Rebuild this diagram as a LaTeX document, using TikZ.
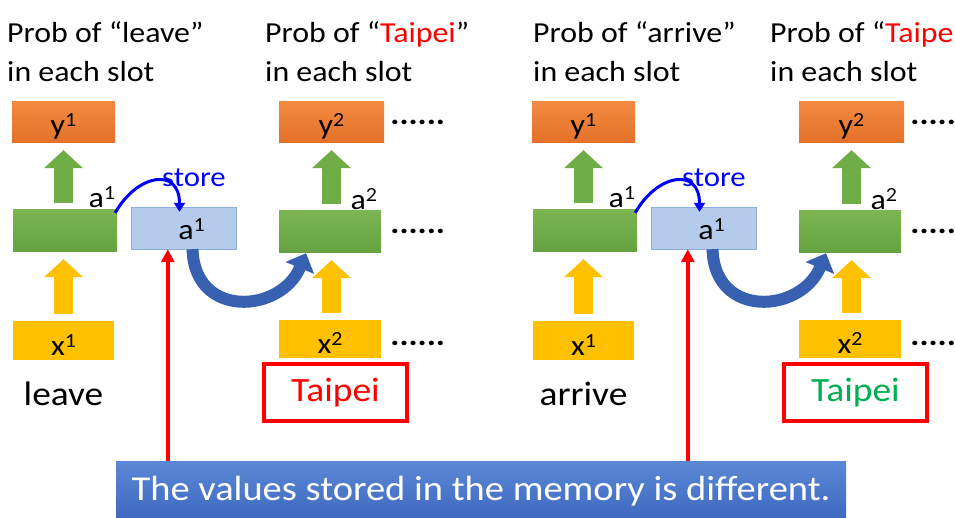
\documentclass[tikz,border=0pt]{standalone}
\usepackage{fontspec}
\setmainfont{Carlito}[FakeStretch=1.1]
\usetikzlibrary{positioning,arrows.meta,calc}

\definecolor{ppOrangeT}{RGB}{242,138,64}
\definecolor{ppOrangeB}{RGB}{228,112,40}
\definecolor{ppGreenT}{RGB}{122,181,82}
\definecolor{ppGreenB}{RGB}{102,162,64}
\definecolor{ppGreen}{RGB}{112,173,71}
\definecolor{ppYellow}{RGB}{255,192,0}
\definecolor{memFill}{RGB}{180,203,236}
\definecolor{memLine}{RGB}{141,174,221}
\definecolor{swoosh}{RGB}{55,97,176}
\definecolor{bannerT}{RGB}{92,136,214}
\definecolor{bannerB}{RGB}{60,103,190}
\definecolor{tGreen}{RGB}{0,176,80}
\newcommand{\fsz}[1]{\fontsize{#1}{#1}\selectfont}
\newcommand{\sps}[1]{\raisebox{8pt}{\fsz{20}#1}}

\begin{document}
\begin{tikzpicture}[
  x=1pt, y=-1pt,
  box/.style={inner sep=0pt, minimum width=103pt, minimum height=41pt, font=\fsz{29},
              text height=25pt, text depth=0pt},
  ybox/.style={box, top color=ppOrangeT, bottom color=ppOrangeB},
  gbox/.style={box, top color=ppGreenT, bottom color=ppGreenB},
  xbox/.style={box, fill=ppYellow, minimum height=39pt, text height=29pt},
  membox/.style={box, fill=memFill, draw=memLine, minimum width=105pt, minimum height=42pt,
                 text height=24pt},
  lab/.style={inner sep=0pt, font=\fsz{29}},
  title/.style={inner sep=0pt, align=left, font=\fontsize{29}{39}\selectfont},
  word/.style={inner sep=0pt, font=\fsz{34}},
  tpbox/.style={draw=red, line width=4pt, minimum width=143pt, minimum height=57pt,
                inner sep=0pt, font=\fsz{34}},
  dots/.style={inner sep=0pt, font=\fsz{31}\bfseries},
  blk/.style={line width=19pt, draw=#1, -{Triangle[length=18pt, width=38pt]},
              shorten <=7pt, shorten >=7pt},
  storearr/.style={blue, line width=3pt, -{Triangle[length=9pt, width=11pt]}},
  swooparr/.style={swoosh, line width=12pt, -{Triangle[length=16pt, width=30pt]}},
  redarr/.style={red, line width=4pt, -{Triangle[length=13pt, width=13pt]}}
]
\useasboundingbox (0,0) rectangle (955,518);
\clip (0,0) rectangle (955,518);

% ---------------- banner ----------------
\node[inner sep=0pt, minimum width=730pt, minimum height=61pt, text=white,
      top color=bannerT, bottom color=bannerB, font=\fsz{35}] (banner) at (481,491.5)
  {The values stored in the memory is different.};

% ---------------- two panels: leave / arrive ----------------
\foreach \dx/\p/\w/\wc/\ta/\tb in {0/L/leave/red/7/265, 520/R/arrive/tGreen/13/250} {
\begin{scope}[xshift=\dx]
  % titles
  \node[title, anchor=base west] (ta\p) at (\ta,82) {Prob of “\w”\\in each slot};
  \node[title, anchor=base west] (tb\p) at (\tb,82)
    {Prob of “\textcolor{red}{Taipei}”\\in each slot};

  % step 1
  \node[ybox] (y1\p) at (63.5,122.5) {y\sps{1}};
  \node[gbox, minimum width=104pt, minimum height=42pt] (g1\p) at (65,231) {};
  \node[xbox, minimum width=101pt] (x1\p) at (63.5,340.5) {x\sps{1}};
  \node[lab, anchor=base east] (a1\p) at ($(g1\p.north east)+(-2,-2)$) {a\sps{1}};
  \node[word, anchor=base] (w\p) at (63.5,405) {\w};

  % memory
  \node[membox] (mem\p) at (183.5,228) {\hspace*{16pt}a\sps{1}};
  \node[lab, blue, font=\fsz{28}] (st\p) at (194,178) {store};

  % step 2
  \node[ybox, minimum width=105pt] (y2\p) at (331.5,122.5) {y\sps{2}};
  \node[gbox, minimum width=102pt, minimum height=42pt] (g2\p) at (330,232) {};
  \node[xbox, minimum width=102pt, minimum height=38pt] (x2\p) at (330,339) {x\sps{2}};
  \node[lab, anchor=base east] (a2\p) at ($(g2\p.north east)+(-4,-1)$) {a\sps{2}};
  \node[tpbox, text=\wc] (tp\p) at (335.5,392.5) {Taipei};
  \node[dots, anchor=west] (d1\p) at ($(y2\p.east)+(6,0)$) {......};
  \node[dots, anchor=west] (d2\p) at ($(g2\p.east)+(9,-1)$) {......};
  \node[dots, anchor=west] (d3\p) at ($(x2\p.east)+(9,4)$) {......};

  % arrows
  \draw[blk=ppYellow] (y1\p.south |- x1\p.north) -- (y1\p.south |- g1\p.south);
  \draw[blk=ppGreen] (y1\p.south |- g1\p.north) -- (y1\p.south);
  \draw[blk=ppYellow] (y2\p.south |- x2\p.north) -- (y2\p.south |- g2\p.south);
  \draw[blk=ppGreen] (y2\p.south |- g2\p.north) -- (y2\p.south);
  \draw[storearr] ($(g1\p.north east)+(-2,3)$) .. controls +(22,-39) and +(0,-45) ..
    ($(mem\p.north)+(-4,5)$);
  \draw[swooparr] ($(mem\p.south)+(9,0)$) .. controls +(2,70) and +(-25,60) ..
    ($(g2\p.south)+(-24,0)$);
  \coordinate (r\p) at ($(mem\p.south west)+(37,0)$);
  \draw[redarr] (r\p |- banner.north) -- (r\p);
\end{scope}
}
\end{tikzpicture}
\end{document}
